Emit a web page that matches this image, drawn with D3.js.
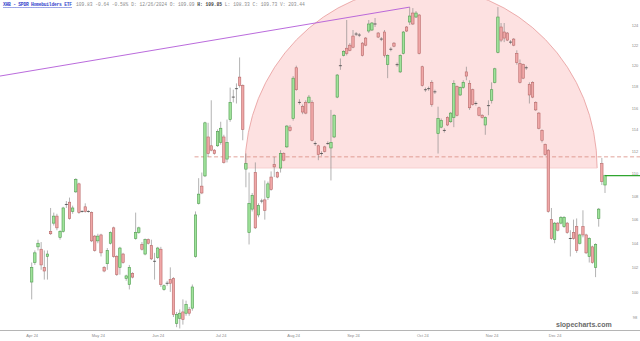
<!DOCTYPE html>
<html lang="en">
<head>
<meta charset="UTF-8">
<title>XHB - SPDR Homebuilders ETF</title>
<script src="https://cdn.jsdelivr.net/npm/d3@7"></script>
<style>
  body { margin: 0; background: #fff; }
  svg { display: block; }
</style>
</head>
<body>
<div id="chart"></div>
<script>
// daily candles, oldest first
const open = [
  100.8,102.4,103.7,103.5,102.0,102.9,105.0,105.7,106.3,104.5,
  105.0,107.3,107.5,106.7,108.4,109.1,106.7,107.1,106.7,106.6,
  104.6,104.2,104.7,102.0,102.3,104.0,105.3,102.9,102.0,103.1,
  101.1,100.6,101.5,104.4,104.9,103.9,103.1,104.3,103.8,102.5,
  102.8,103.5,100.2,100.7,101.0,101.1,97.5,97.9,98.4,98.3,
  98.6,98.7,102.9,107.4,108.9,109.8,113.3,112.5,112.1,112.5,
  112.8,113.3,111.3,114.9,117.0,117.8,118.9,118.1,110.4,104.9,
  106.9,110.1,106.4,107.6,107.7,107.9,109.7,110.8,110.1,110.5,
  111.8,112.4,114.2,115.0,119.8,116.5,116.1,116.5,116.5,116.5,
  112.7,112.5,111.8,112.4,112.7,112.3,113.3,117.0,120.0,121.0,
  121.7,122.0,122.9,123.1,123.0,122.2,122.7,123.4,123.5,124.1,
  123.2,122.6,123.3,120.1,121.6,122.2,120.1,119.4,121.2,123.8,
  124.3,125.2,124.8,125.0,119.9,117.7,117.8,118.4,117.5,113.6,
  114.2,113.9,115.1,114.7,115.1,118.0,117.2,117.9,119.4,118.3,
  117.7,116.4,116.0,115.3,114.4,116.2,116.7,118.4,121.3,123.8,
  123.3,123.2,122.3,122.6,121.2,120.2,120.1,119.8,118.2,118.4,
  116.5,115.5,113.9,112.6,112.1,106.0,104.3,105.7,105.7,105.4,
  105.7,104.4,104.9,105.4,104.0,105.4,104.7,102.9,103.7,102.0,
  106.1,110.9,109.0
];
const high = [
  102.4,103.4,104.3,104.1,103.4,103.4,107.0,106.6,106.5,105.1,
  107.1,107.6,107.9,107.2,109.6,109.2,106.8,107.4,106.8,106.7,
  104.7,104.8,104.8,102.1,103.6,105.0,105.4,103.0,103.7,103.2,
  101.4,102.2,101.6,106.6,105.4,104.1,104.4,104.4,104.3,103.2,
  103.7,103.7,100.6,100.9,102.0,101.2,98.4,98.6,99.4,99.3,
  98.8,100.6,106.7,109.6,110.1,114.7,114.6,116.7,112.2,114.0,
  114.7,113.5,114.9,117.9,117.7,118.3,120.8,118.2,111.8,110.1,
  108.3,111.0,107.4,107.8,109.4,109.3,110.2,111.5,110.2,112.1,
  111.9,114.4,114.4,119.0,120.0,116.8,116.3,116.7,117.2,116.7,
  112.9,112.6,112.0,112.5,112.9,115.8,115.4,119.2,120.7,121.5,
  124.5,122.2,123.5,123.3,123.2,122.3,122.8,124.5,124.3,124.7,
  123.3,122.8,123.5,121.1,121.8,122.3,120.3,121.1,123.4,123.9,
  125.8,125.7,125.4,125.1,120.0,117.9,118.0,118.6,117.7,116.1,
  115.0,114.1,115.2,115.6,118.6,118.1,118.0,118.6,119.9,118.6,
  117.8,116.6,116.1,115.4,115.2,116.7,118.4,119.8,125.8,124.2,
  124.2,123.3,122.5,122.7,121.5,120.6,120.2,120.0,118.4,118.5,
  116.6,115.6,114.0,112.7,112.2,107.0,105.8,105.8,106.3,106.3,
  105.8,105.1,106.0,106.1,104.8,106.8,104.8,104.5,103.8,104.0,
  107.0,111.4,109.9
];
const low = [
  99.4,102.2,103.4,101.8,101.0,101.0,104.7,105.5,105.1,104.3,
  104.9,107.0,106.0,106.5,108.3,106.5,106.6,106.6,106.6,104.1,
  103.3,104.0,102.9,101.6,101.8,103.9,102.8,101.3,101.4,102.3,
  100.9,100.2,101.1,104.3,104.8,103.4,103.0,103.9,102.6,101.0,
  102.7,100.4,100.1,100.5,100.0,98.0,97.2,97.1,97.4,98.1,
  98.1,98.5,102.8,107.3,108.2,109.7,111.5,112.0,111.7,112.4,
  112.6,110.9,111.0,114.7,116.5,116.4,117.9,113.0,108.8,103.9,
  106.7,105.2,106.2,107.4,106.0,107.7,108.5,109.7,109.6,110.1,
  111.1,112.3,113.8,114.8,117.6,116.3,115.4,115.4,116.4,112.9,
  112.5,111.2,111.6,111.9,112.6,109.4,113.2,116.9,119.6,120.9,
  121.0,121.4,121.7,122.9,122.8,120.9,121.9,123.2,123.4,123.8,
  122.7,122.4,120.8,118.8,121.4,121.8,119.9,119.3,121.1,123.3,
  124.0,124.0,124.7,121.1,118.0,117.5,117.6,116.1,117.3,111.8,
  114.1,113.7,114.3,114.6,114.2,115.2,117.1,117.8,118.6,115.8,
  116.2,116.2,115.2,115.0,113.5,115.3,116.4,118.3,121.2,122.3,
  122.3,122.4,122.1,121.9,120.1,118.3,118.7,119.6,116.4,116.9,
  115.7,114.0,112.8,111.6,106.6,104.3,104.0,105.0,105.6,105.3,
  104.8,102.9,104.3,103.2,103.9,104.5,103.1,102.4,102.3,101.2,
  105.4,109.0,108.3
];
const close = [
  102.0,103.2,104.0,102.2,101.7,103.1,104.8,106.3,105.3,105.0,
  107.0,107.3,106.1,107.0,109.5,106.6,106.7,106.7,106.7,104.2,
  103.4,104.6,103.2,101.7,103.4,104.9,102.9,101.4,103.6,102.4,
  101.3,102.0,101.2,104.9,105.3,103.5,104.3,104.0,102.7,102.5,
  103.6,100.6,100.5,100.7,100.7,98.2,98.2,98.3,97.8,99.0,
  98.3,100.4,106.4,108.2,108.3,114.6,111.8,112.1,111.8,113.8,
  114.1,111.0,112.8,116.5,117.0,117.8,118.1,114.0,110.9,107.4,
  108.1,105.3,107.2,107.6,106.8,109.1,108.6,110.6,109.7,111.8,
  111.2,114.3,113.9,118.8,117.7,116.5,115.6,115.5,117.0,113.0,
  112.7,111.7,111.8,112.0,112.7,112.8,115.3,119.1,120.0,121.4,
  121.2,121.5,121.8,123.1,123.0,121.0,122.0,124.1,124.2,124.1,
  122.8,122.6,121.0,121.0,121.6,121.9,120.1,121.0,123.3,123.4,
  124.9,124.1,125.2,121.2,118.1,117.7,117.8,116.3,117.5,115.0,
  114.8,113.9,114.4,115.5,118.3,115.3,117.9,118.4,119.0,116.0,
  116.3,116.4,115.3,115.1,115.1,116.2,117.7,119.7,124.8,122.5,
  122.7,122.5,122.3,122.0,120.3,118.4,118.8,119.8,117.2,117.0,
  115.8,114.1,113.0,111.7,106.7,104.4,105.7,105.1,106.2,106.2,
  104.9,104.4,104.4,103.4,104.7,104.7,103.2,104.4,102.4,103.9,
  106.9,109.3,109.83
];

// axis labels
const monthTickIndex = [0, 21, 40, 60, 83, 102, 124, 146, 166];
const monthLabels = ["Apr 24","May 24","Jun 24","Jul 24","Aug 24","Sep 24","Oct 24","Nov 24","Dec 24"];
const priceTicks = [124,122,120,118,116,114,112,110,108,106,104,102,100,98];

// drawn annotations (bar index, price)
const trendFrom = [-10.1, 119.0];
const trendTo = [120, 125.8];
const levelFromIndex = 51.7;
const levelPrice = 111.5;
const domeCenterIndex = 123.6;
const domeHalfWidth = 55.9;
const domeBasePrice = 110.5;
const domeTopPrice = 127.9;
const lastPrice = 109.83;

const headerName = "XHB - SPDR Homebuilders ETF";
const headerInfo = "109.83 -0.64 -0.58% D: 12/26/2024 O: 109.09 ";
const headerHigh = "H: 109.85";
const headerRest = " L: 108.33 C: 109.73 V: 203.44";

const W = 640, H = 341;
const svg = d3.select("#chart").append("svg")
    .attr("width", W)
    .attr("height", H);

const x = d3.scaleLinear().domain([0, open.length - 1]).range([31.7, 605]);
const y = d3.scaleLog().domain([98, 124]).range([317, 25]);

// pink dome
const cx = x(domeCenterIndex), cy = y(domeBasePrice);
const rx = x(domeCenterIndex + domeHalfWidth) - cx;
const ry = cy - y(domeTopPrice);
svg.append("path")
    .attr("d", `M${cx - rx},${cy} A${rx},${ry} 0 0 1 ${cx + rx},${cy} Z`)
    .attr("fill", "#fde1e1")
    .attr("stroke", "none");
svg.append("path")
    .attr("d", `M${cx - rx},${cy} A${rx},${ry} 0 0 1 ${cx + rx},${cy}`)
    .attr("fill", "none")
    .attr("stroke", "#e79a9a")
    .attr("stroke-width", 0.8);
svg.append("line")
    .attr("x1", cx - rx).attr("x2", cx + rx)
    .attr("y1", cy).attr("y2", cy)
    .attr("stroke", "#f6caca")
    .attr("stroke-width", 0.8);

// horizontal dashed level
svg.append("line")
    .attr("x1", x(levelFromIndex)).attr("x2", W)
    .attr("y1", y(levelPrice)).attr("y2", y(levelPrice))
    .attr("stroke", "#d98a80")
    .attr("stroke-width", 0.8)
    .attr("stroke-dasharray", "4,2.5");

// purple trend line
svg.append("line")
    .attr("x1", x(trendFrom[0])).attr("y1", y(trendFrom[1]))
    .attr("x2", x(trendTo[0])).attr("y2", y(trendTo[1]))
    .attr("stroke", "#b25ad8")
    .attr("stroke-width", 0.9);

// candles
const bars = d3.range(open.length).map(i => ({
    i, o: open[i], h: high[i], l: low[i], c: close[i]
}));
const bw = 2.4;

svg.append("g").selectAll("line")
    .data(bars)
    .join("line")
    .attr("x1", d => x(d.i)).attr("x2", d => x(d.i))
    .attr("y1", d => y(d.h)).attr("y2", d => y(d.l))
    .attr("stroke", "#808080")
    .attr("stroke-width", 0.6);

svg.append("g").selectAll("rect")
    .data(bars.filter(d => d.o !== d.c))
    .join("rect")
    .attr("x", d => x(d.i) - bw / 2)
    .attr("y", d => y(Math.max(d.o, d.c)))
    .attr("width", bw)
    .attr("height", d => Math.max(1, Math.abs(y(d.o) - y(d.c))))
    .attr("fill", d => d.c > d.o ? "#9fe39a" : "#f0a7a7")
    .attr("stroke", d => d.c > d.o ? "#4f9c4f" : "#b86a6a")
    .attr("stroke-width", 0.6);

svg.append("g").selectAll("line")
    .data(bars.filter(d => d.o === d.c))
    .join("line")
    .attr("x1", d => x(d.i) - bw / 2 - 0.3).attr("x2", d => x(d.i) + bw / 2 + 0.3)
    .attr("y1", d => y(d.c)).attr("y2", d => y(d.c))
    .attr("stroke", "#444")
    .attr("stroke-width", 0.8);

// last price line
svg.append("line")
    .attr("x1", x(open.length - 1)).attr("x2", W)
    .attr("y1", y(lastPrice)).attr("y2", y(lastPrice))
    .attr("stroke", "#2fa52f")
    .attr("stroke-width", 1.2);

// price axis
const yAxis = svg.append("g")
    .attr("transform", "translate(635,0)")
    .call(d3.axisRight(y).tickValues(priceTicks).tickFormat(d3.format("d")).tickSize(0).tickPadding(0));
yAxis.select(".domain").remove();
yAxis.selectAll("text")
    .attr("text-anchor", "middle")
    .attr("fill", "#8a8a8a")
    .style("font", "4px 'Liberation Sans', Arial, sans-serif");

// bottom rule and month labels
svg.append("line")
    .attr("x1", 0).attr("x2", W)
    .attr("y1", 330.5).attr("y2", 330.5)
    .attr("stroke", "#b5b5b5")
    .attr("stroke-width", 1.2);

const xAxis = svg.append("g")
    .attr("transform", "translate(0,334.5)")
    .call(d3.axisBottom(x).tickValues(monthTickIndex)
        .tickFormat((d, k) => monthLabels[k]).tickSize(0).tickPadding(0));
xAxis.select(".domain").remove();
xAxis.selectAll("text")
    .attr("fill", "#8a8a8a")
    .style("font", "4px 'Liberation Sans', Arial, sans-serif");

// watermark
svg.append("text")
    .attr("x", 556).attr("y", 327)
    .attr("fill", "#6a6a6a")
    .style("font", "bold 7px 'Liberation Sans', Arial, sans-serif")
    .text("slopecharts.com");

// header
svg.append("text")
    .attr("x", 3).attr("y", 6)
    .attr("fill", "#3344cc")
    .attr("text-decoration", "underline")
    .attr("textLength", 69)
    .style("font", "bold 4.6px 'Liberation Mono', monospace")
    .text(headerName);

const info = svg.append("text")
    .attr("x", 76).attr("y", 6)
    .attr("fill", "#8a8a8a")
    .style("font", "4.6px 'Liberation Mono', monospace");
info.append("tspan").text(headerInfo);
info.append("tspan").attr("font-weight", "bold").attr("fill", "#444").text(headerHigh);
info.append("tspan").text(headerRest);
</script>
</body>
</html>
